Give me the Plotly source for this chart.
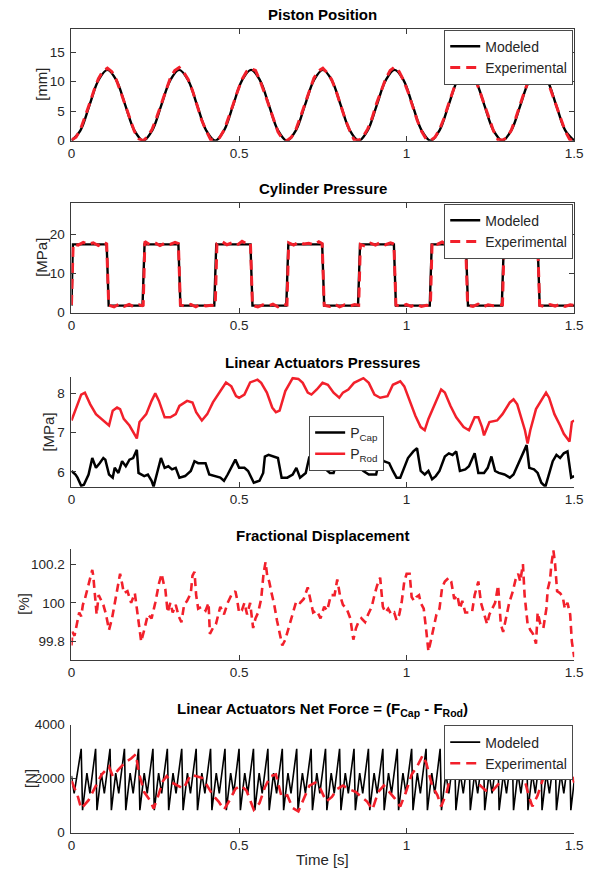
import numpy as np
import plotly.graph_objects as go

W, H = 592, 877

# ---------------- Piston position [mm] ----------------
pos_t_model = np.linspace(0, 1.5, 57)
pos_model = [0, 1.76, 6, 10.24, 12, 10.24, 6, 1.76,
             0, 1.76, 6, 10.24, 12, 10.24, 6, 1.76,
             0, 1.76, 6, 10.24, 12, 10.24, 6, 1.76,
             0, 1.76, 6, 10.24, 12, 10.24, 6, 1.76,
             0, 1.76, 6, 10.24, 12, 10.24, 6, 1.76,
             0, 1.76, 6, 10.24, 12, 10.24, 6, 1.76,
             0, 1.76, 6, 10.24, 12, 10.24, 6, 1.76,
             0]
pos_t_exp = np.linspace(0, 1.5, 113)
pos_exp = [0.1, 0.6, 1.9, 3.9, 6.2, 8.5, 10.5, 11.8, 12.3, 11.7, 10.3, 8.2, 5.9, 3.6, 1.6, 0.3,
           0.0, 0.7, 2.0, 4.0, 6.3, 8.6, 10.6, 11.9, 12.4, 11.6, 10.4, 8.4, 5.8, 3.5, 1.7, 0.2,
           0.1, 0.5, 1.8, 3.8, 6.1, 8.4, 10.4, 11.7, 12.2, 11.9, 10.2, 8.1, 6.0, 3.7, 1.5, 0.3,
           0.0, 0.6, 1.9, 4.0, 6.2, 8.5, 10.6, 11.8, 12.3, 11.5, 10.3, 8.3, 5.9, 3.6, 1.7, 0.1,
           0.1, 0.7, 2.0, 3.9, 6.4, 8.6, 10.5, 11.9, 12.5, 11.7, 10.2, 8.2, 5.8, 3.5, 1.6, 0.3,
           0.0, 0.6, 1.9, 3.8, 6.2, 8.4, 10.6, 11.8, 12.4, 11.8, 10.4, 8.3, 6.0, 3.6, 1.7, 0.2,
           0.1, 0.5, 1.8, 3.9, 6.3, 8.5, 10.5, 11.9, 12.3, 11.6, 10.3, 8.2, 5.9, 3.7, 1.6, 0.2,
           0.0]

# ---------------- Cylinder pressure [MPa] ----------------
pres_t_model = [0, 0.004, 0.105, 0.111, 0.212, 0.218, 0.319, 0.325, 0.426, 0.432,
                0.534, 0.540, 0.641, 0.647, 0.748, 0.754, 0.855, 0.861, 0.962, 0.968,
                1.069, 1.075, 1.177, 1.183, 1.284, 1.290, 1.391, 1.397, 1.5]
pres_model = [1.8, 17.5, 17.5, 1.8, 1.8, 17.5, 17.5, 1.8, 1.8, 17.5,
              17.5, 1.8, 1.8, 17.5, 17.5, 1.8, 1.8, 17.5, 17.5, 1.8,
              1.8, 17.5, 17.5, 1.8, 1.8, 17.5, 17.5, 1.8, 1.8]
pres_t_exp = [0.000, 0.005, 0.020, 0.035, 0.050, 0.065, 0.080, 0.095, 0.105, 0.111, 0.127, 0.142, 0.157, 0.172, 0.187, 0.202, 0.211,
              0.214, 0.219, 0.234, 0.249, 0.264, 0.279, 0.294, 0.309, 0.319, 0.325, 0.341, 0.356, 0.371, 0.386, 0.401, 0.416, 0.425,
              0.429, 0.434, 0.449, 0.464, 0.479, 0.494, 0.509, 0.524, 0.534, 0.540, 0.556, 0.571, 0.586, 0.601, 0.616, 0.631, 0.640,
              0.643, 0.648, 0.663, 0.678, 0.693, 0.708, 0.723, 0.738, 0.748, 0.754, 0.770, 0.785, 0.800, 0.815, 0.830, 0.845, 0.854,
              0.857, 0.862, 0.877, 0.892, 0.907, 0.922, 0.937, 0.952, 0.962, 0.968, 0.984, 0.999, 1.014, 1.029, 1.044, 1.059, 1.068,
              1.071, 1.076, 1.091, 1.106, 1.121, 1.136, 1.151, 1.166, 1.176, 1.182, 1.198, 1.213, 1.228, 1.243, 1.258, 1.273, 1.282,
              1.286, 1.291, 1.306, 1.321, 1.336, 1.351, 1.366, 1.381, 1.391, 1.397, 1.413, 1.428, 1.443, 1.458, 1.473, 1.488, 1.500]
pres_exp = [2.0, 17.6, 17.3, 18.0, 17.5, 17.9, 17.2, 18.1, 17.6, 1.9, 1.5, 2.2, 1.6, 2.1, 1.5, 2.0, 1.8,
            1.9, 18.2, 17.4, 17.9, 17.2, 17.8, 17.5, 18.0, 17.7, 2.0, 1.6, 2.1, 1.5, 2.2, 1.7, 1.9, 1.8,
            1.8, 17.7, 18.2, 17.4, 17.9, 17.3, 18.3, 17.6, 17.8, 1.8, 1.5, 2.0, 1.7, 2.2, 1.5, 2.1, 1.9,
            2.0, 17.9, 17.3, 18.1, 17.6, 17.8, 17.4, 18.2, 17.7, 1.9, 1.6, 2.2, 1.5, 2.0, 1.7, 2.1, 1.8,
            1.9, 17.5, 17.0, 17.8, 17.3, 18.0, 17.4, 17.9, 17.6, 2.0, 1.5, 2.1, 1.6, 2.2, 1.6, 1.9, 1.8,
            1.8, 18.0, 17.5, 18.1, 17.4, 17.9, 17.6, 18.2, 17.8, 1.9, 1.6, 2.2, 1.5, 2.0, 1.8, 2.1, 1.9,
            2.0, 18.3, 17.6, 18.2, 17.7, 18.4, 17.5, 18.1, 17.9, 1.9, 1.5, 2.1, 1.7, 2.2, 1.6, 2.0, 1.9]

# ---------------- Linear actuator pressures [MPa] ----------------
rod_t = [0, 0.029, 0.040, 0.056, 0.073, 0.084, 0.106, 0.112, 0.123, 0.136,
         0.145, 0.156, 0.173, 0.189, 0.195, 0.203, 0.223, 0.239, 0.250, 0.261,
         0.278, 0.295, 0.311, 0.322, 0.345, 0.361, 0.372, 0.389, 0.405, 0.422,
         0.444, 0.461, 0.477, 0.491, 0.500, 0.516, 0.533, 0.555, 0.566, 0.583,
         0.599, 0.610, 0.621, 0.638, 0.660, 0.677, 0.690, 0.705, 0.716, 0.732,
         0.749, 0.765, 0.782, 0.799, 0.810, 0.826, 0.843, 0.871, 0.887, 0.904,
         0.921, 0.943, 0.959, 0.981, 0.993, 1.009, 1.026, 1.042, 1.054, 1.065,
         1.087, 1.103, 1.114, 1.131, 1.148, 1.170, 1.186, 1.203, 1.214, 1.225,
         1.231, 1.247, 1.270, 1.286, 1.308, 1.319, 1.330, 1.342, 1.353, 1.361,
         1.369, 1.386, 1.408, 1.416, 1.425, 1.441, 1.458, 1.469, 1.486, 1.493, 1.500]
rod_p = [7.31, 7.97, 8.02, 7.72, 7.47, 7.39, 7.22, 7.18, 7.56, 7.64,
         7.60, 7.35, 7.18, 6.93, 6.85, 7.27, 7.47, 7.81, 8.00, 7.81,
         7.39, 7.39, 7.47, 7.68, 7.81, 7.77, 7.52, 7.31, 7.47, 7.77,
         8.06, 8.28, 8.18, 7.93, 7.89, 7.97, 8.28, 8.35, 8.27, 8.02,
         7.64, 7.52, 7.56, 8.06, 8.39, 8.37, 8.27, 8.02, 7.97, 8.10,
         8.27, 8.22, 8.02, 7.89, 8.02, 8.10, 8.27, 8.39, 8.27, 7.97,
         7.89, 7.93, 8.22, 8.31, 8.18, 7.81, 7.43, 7.14, 7.06, 7.35,
         7.81, 8.10, 8.02, 7.68, 7.39, 7.14, 7.06, 7.39, 7.39, 7.14,
         6.93, 7.27, 7.31, 7.47, 7.77, 7.85, 7.72, 7.39, 7.06, 6.72,
         7.06, 7.60, 7.93, 8.02, 7.89, 7.47, 7.18, 6.97, 6.77, 7.27, 7.31]
cap_t = [0, 0.012, 0.018, 0.029, 0.037, 0.051, 0.062, 0.073, 0.084, 0.095,
         0.101, 0.112, 0.123, 0.129, 0.140, 0.151, 0.162, 0.173, 0.184, 0.195,
         0.200, 0.217, 0.228, 0.239, 0.245, 0.256, 0.267, 0.278, 0.289, 0.300,
         0.311, 0.322, 0.339, 0.356, 0.367, 0.378, 0.389, 0.400, 0.411, 0.428,
         0.444, 0.455, 0.466, 0.489, 0.500, 0.516, 0.527, 0.544, 0.561, 0.572,
         0.577, 0.588, 0.605, 0.616, 0.627, 0.644, 0.660, 0.671, 0.682, 0.699,
         0.710, 0.721, 0.738, 0.754, 0.771, 0.782, 0.793, 0.804, 0.821, 0.838,
         0.849, 0.860, 0.871, 0.887, 0.909, 0.921, 0.932, 0.948, 0.959, 0.970,
         0.981, 0.993, 1.004, 1.020, 1.031, 1.042, 1.054, 1.065, 1.076, 1.087,
         1.098, 1.114, 1.126, 1.137, 1.148, 1.159, 1.175, 1.186, 1.203, 1.214,
         1.231, 1.242, 1.253, 1.264, 1.275, 1.292, 1.308, 1.319, 1.342, 1.358,
         1.366, 1.380, 1.391, 1.402, 1.414, 1.425, 1.436, 1.447, 1.458, 1.469,
         1.480, 1.491, 1.500]
cap_p = [6.02, 5.93, 5.85, 5.64, 5.67, 5.93, 6.35, 6.10, 6.22, 6.35,
         6.31, 5.93, 5.85, 6.10, 5.97, 6.27, 6.14, 6.31, 6.35, 6.56,
         5.97, 5.89, 5.93, 5.77, 5.62, 5.97, 6.35, 6.10, 6.14, 6.06,
         6.10, 5.85, 5.89, 6.02, 6.27, 6.22, 6.22, 6.22, 5.93, 5.89,
         5.85, 5.77, 5.93, 6.31, 6.10, 6.10, 6.02, 5.72, 5.77, 5.97,
         6.39, 6.43, 6.39, 6.35, 5.85, 5.85, 5.93, 6.10, 5.85, 5.97,
         6.39, 6.10, 6.14, 6.10, 5.97, 5.97, 6.27, 6.18, 6.27, 6.31,
         6.06, 6.10, 6.02, 5.93, 5.93, 6.39, 6.27, 6.22, 6.02, 5.85,
         5.85, 6.10, 6.35, 6.52, 6.60, 6.02, 5.93, 6.02, 5.81, 5.89,
         6.02, 6.39, 6.47, 6.43, 6.52, 6.02, 6.06, 6.14, 6.47, 5.97,
         5.97, 6.10, 6.39, 6.02, 5.97, 5.93, 5.85, 5.93, 6.35, 6.68,
         6.10, 6.06, 5.97, 5.72, 5.62, 5.93, 6.27, 6.43, 6.35, 6.47,
         6.52, 5.85, 5.89]

# ---------------- Fractional displacement [%] ----------------
frac_t = [0.000, 0.003, 0.009, 0.018, 0.023, 0.029, 0.034, 0.040, 0.048, 0.054,
          0.062, 0.065, 0.070, 0.075, 0.081, 0.088, 0.095, 0.103, 0.112, 0.121,
          0.129, 0.136, 0.145, 0.151, 0.156, 0.167, 0.178, 0.189, 0.200, 0.208,
          0.217, 0.228, 0.239, 0.250, 0.261, 0.269, 0.275, 0.280, 0.287, 0.295,
          0.302, 0.311, 0.320, 0.328, 0.336, 0.345, 0.356, 0.361, 0.367, 0.372,
          0.378, 0.389, 0.400, 0.409, 0.413, 0.422, 0.431, 0.439, 0.444, 0.455,
          0.466, 0.477, 0.489, 0.494, 0.500, 0.508, 0.516, 0.524, 0.533, 0.542,
          0.549, 0.557, 0.566, 0.573, 0.579, 0.584, 0.590, 0.597, 0.605, 0.613,
          0.621, 0.629, 0.638, 0.646, 0.655, 0.664, 0.671, 0.682, 0.693, 0.705,
          0.712, 0.721, 0.732, 0.743, 0.754, 0.763, 0.774, 0.785, 0.793, 0.801,
          0.810, 0.821, 0.832, 0.841, 0.849, 0.856, 0.865, 0.876, 0.885, 0.896,
          0.904, 0.912, 0.921, 0.929, 0.937, 0.945, 0.954, 0.963, 0.970, 0.978,
          0.985, 0.993, 1.000, 1.009, 1.015, 1.022, 1.029, 1.037, 1.042, 1.051,
          1.059, 1.065, 1.073, 1.081, 1.089, 1.098, 1.106, 1.114, 1.126, 1.133,
          1.142, 1.151, 1.159, 1.166, 1.175, 1.186, 1.195, 1.203, 1.214, 1.222,
          1.231, 1.240, 1.247, 1.255, 1.264, 1.273, 1.281, 1.288, 1.297, 1.306,
          1.317, 1.325, 1.333, 1.339, 1.347, 1.352, 1.361, 1.369, 1.377, 1.386,
          1.391, 1.399, 1.408, 1.417, 1.421, 1.428, 1.432, 1.438, 1.443, 1.449,
          1.458, 1.466, 1.472, 1.480, 1.488, 1.493, 1.500]
frac_v = [99.78, 99.85, 99.83, 99.90, 99.95, 99.93, 99.99, 100.02, 100.08, 100.12,
          100.17, 100.14, 100.05, 99.94, 100.04, 100.01, 99.99, 99.94, 99.86, 99.92,
          100.00, 100.05, 100.15, 100.10, 100.05, 100.06, 100.00, 100.05, 99.90, 99.80,
          99.86, 99.94, 99.92, 100.00, 100.10, 100.15, 100.10, 100.07, 99.95, 100.00,
          99.95, 99.99, 99.93, 99.90, 99.99, 100.01, 100.05, 100.14, 100.16, 100.04,
          99.97, 99.98, 99.96, 100.00, 99.84, 99.87, 99.89, 99.95, 99.98, 99.94,
          100.00, 100.04, 100.06, 100.02, 99.95, 99.96, 100.00, 99.94, 100.00, 99.87,
          99.92, 99.95, 100.02, 100.15, 100.21, 100.14, 100.11, 100.05, 99.99, 99.91,
          99.84, 99.78, 99.81, 99.86, 99.92, 99.98, 100.01, 100.00, 100.02, 100.08,
          100.02, 99.95, 99.96, 99.92, 99.98, 99.96, 100.04, 100.04, 100.12, 100.04,
          99.99, 99.97, 99.92, 99.81, 99.87, 99.90, 99.92, 99.90, 99.94, 99.98,
          100.04, 100.09, 100.13, 99.98, 99.95, 99.97, 99.94, 99.95, 99.91, 99.94,
          100.00, 100.11, 100.15, 100.15, 100.03, 100.01, 100.03, 100.04, 100.00, 99.97,
          99.85, 99.75, 99.81, 99.87, 99.94, 99.97, 100.08, 100.11, 100.13, 100.11,
          100.02, 100.04, 99.97, 100.01, 99.95, 99.95, 99.95, 100.04, 100.11, 100.00,
          99.95, 99.89, 99.94, 99.97, 100.00, 100.09, 99.89, 99.85, 99.93, 100.00,
          100.06, 100.12, 100.15, 100.11, 100.20, 100.04, 99.89, 99.86, 99.84, 99.79,
          99.95, 99.89, 99.87, 99.97, 100.07, 100.12, 100.20, 100.27, 100.20, 100.06,
          100.05, 100.03, 99.97, 100.00, 99.94, 99.80, 99.72]

# ---------------- Net force [N] ----------------
force_t_model = [0.000, 0.008,
                 0.029, 0.033, 0.046, 0.055, 0.072, 0.076, 0.089, 0.098,
                 0.115, 0.119, 0.132, 0.141, 0.158, 0.162, 0.175, 0.184,
                 0.200, 0.204, 0.217, 0.226, 0.243, 0.247, 0.260, 0.269,
                 0.286, 0.290, 0.303, 0.312, 0.329, 0.333, 0.346, 0.355,
                 0.372, 0.376, 0.389, 0.398, 0.415, 0.419, 0.432, 0.441,
                 0.458, 0.462, 0.475, 0.484, 0.500, 0.504, 0.517, 0.526,
                 0.543, 0.547, 0.560, 0.569, 0.586, 0.590, 0.603, 0.612,
                 0.629, 0.633, 0.646, 0.655, 0.672, 0.676, 0.689, 0.698,
                 0.715, 0.719, 0.732, 0.741, 0.758, 0.762, 0.775, 0.784,
                 0.800, 0.804, 0.817, 0.826, 0.843, 0.847, 0.860, 0.869,
                 0.886, 0.890, 0.903, 0.912, 0.929, 0.933, 0.946, 0.955,
                 0.972, 0.976, 0.989, 0.998, 1.015, 1.019, 1.032, 1.041,
                 1.058, 1.062, 1.075, 1.084, 1.100, 1.104, 1.117, 1.126,
                 1.143, 1.147, 1.160, 1.169, 1.186, 1.190, 1.203, 1.212,
                 1.229, 1.233, 1.246, 1.255, 1.272, 1.276, 1.289, 1.298,
                 1.315, 1.319, 1.332, 1.341, 1.358, 1.362, 1.375, 1.384,
                 1.400, 1.404, 1.417, 1.426, 1.443, 1.447, 1.460, 1.469,
                 1.486, 1.490, 1.500]
force_model = [2100, 1450,
               3100, 830, 2200, 1450, 3100, 830, 2200, 1450,
               3100, 830, 2200, 1450, 3100, 830, 2200, 1450,
               3100, 830, 2200, 1450, 3100, 830, 2200, 1450,
               3100, 830, 2200, 1450, 3100, 830, 2200, 1450,
               3100, 830, 2200, 1450, 3100, 830, 2200, 1450,
               3100, 830, 2200, 1450, 3100, 830, 2200, 1450,
               3100, 830, 2200, 1450, 3100, 830, 2200, 1450,
               3100, 830, 2200, 1450, 3100, 830, 2200, 1450,
               3100, 830, 2200, 1450, 3100, 830, 2200, 1450,
               3100, 830, 2200, 1450, 3100, 830, 2200, 1450,
               3100, 830, 2200, 1450, 3100, 830, 2200, 1450,
               3100, 830, 2200, 1450, 3100, 830, 2200, 1450,
               3100, 830, 2200, 1450, 3100, 830, 2200, 1450,
               3100, 830, 2200, 1450, 3100, 830, 2200, 1450,
               3100, 830, 2200, 1450, 3100, 830, 2200, 1450,
               3100, 830, 2200, 1450, 3100, 830, 2200, 1450,
               3100, 830, 2200, 1450, 3100, 830, 2200, 1450,
               3100, 830, 1900]
force_t_exp = [0.000, 0.018, 0.029, 0.051, 0.073, 0.090, 0.112, 0.123, 0.140, 0.162,
               0.178, 0.192, 0.201, 0.217, 0.234, 0.245, 0.256, 0.273, 0.284, 0.300,
               0.317, 0.334, 0.356, 0.372, 0.389, 0.405, 0.422, 0.439, 0.455, 0.472,
               0.489, 0.505, 0.522, 0.544, 0.561, 0.577, 0.594, 0.610, 0.627, 0.644,
               0.660, 0.677, 0.693, 0.710, 0.727, 0.743, 0.760, 0.777, 0.793, 0.810,
               0.826, 0.849, 0.865, 0.882, 0.898, 0.915, 0.932, 0.948, 0.965, 0.981,
               0.998, 1.015, 1.031, 1.048, 1.059, 1.076, 1.092, 1.103, 1.120, 1.137,
               1.153, 1.170, 1.186, 1.203, 1.220, 1.236, 1.253, 1.270, 1.286, 1.303,
               1.319, 1.336, 1.353, 1.364, 1.375, 1.391, 1.408, 1.425, 1.441, 1.458,
               1.474, 1.486, 1.500]
force_exp = [1910, 1380, 890, 1200, 1740, 2150, 2440, 2090, 2330, 2620,
             2740, 2900, 2210, 1500, 1200, 890, 1260, 1910, 2090, 1850,
             1740, 1620, 2150, 2090, 2030, 1740, 1380, 1150, 850, 1200,
             1620, 1740, 1560, 850, 1090, 1680, 2090, 2150, 1320, 1380,
             910, 790, 1260, 1740, 1850, 1620, 1150, 1320, 1620, 1740,
             1620, 1500, 1320, 1150, 850, 1500, 1740, 1500, 1260, 970,
             1500, 2150, 2440, 2860, 2560, 1740, 1380, 970, 1500, 2440,
             2560, 2380, 2150, 2030, 1740, 1560, 1500, 1740, 1970, 2330,
             2680, 2440, 1910, 1380, 970, 1380, 2030, 2440, 2740, 2620,
             2800, 2440, 1850]

# ---------------- figure ----------------
RED = '#f2202b'
AX = '#3a3a3a'
TXT = '#262626'
FONT = 'Liberation Sans, Arial, sans-serif'

def px_x(p):
    return p / W

def px_y(p):
    return 1 - p / H

x0, x1 = 69, 583
rows = [(22, 136), (199, 311), (376, 488), (551, 664), (730, 840)]

fig = go.Figure()

def add(x, y, ax, name, color, width, dash='solid', legend=None, show=True, shape='linear'):
    fig.add_trace(go.Scatter(
        x=x, y=y, mode='lines', name=name,
        xaxis='x' + ('' if ax == 1 else str(ax)),
        yaxis='y' + ('' if ax == 1 else str(ax)),
        line=dict(color=color, width=width, dash=dash, shape=shape),
        legend=legend if legend else 'legend', showlegend=show))

add(pos_t_model, pos_model, 1, 'Modeled', 'black', 2.4, legend='legend', shape='spline')
add(pos_t_exp, pos_exp, 1, 'Experimental', RED, 3, dash='10px,6px', legend='legend')
add(pres_t_model, pres_model, 2, 'Modeled', 'black', 2.4, legend='legend2')
add(pres_t_exp, pres_exp, 2, 'Experimental', RED, 3, dash='10px,6px', legend='legend2')
add(cap_t, cap_p, 3, 'P<sub>Cap</sub>', 'black', 2.5, legend='legend3')
add(rod_t, rod_p, 3, 'P<sub>Rod</sub>', RED, 2.5, legend='legend3')
add(frac_t, frac_v, 4, 'Fractional', RED, 2.6, dash='8px,5px', show=False)
add(force_t_model, force_model, 5, 'Modeled', 'black', 1.6, legend='legend4')
add(force_t_exp, force_exp, 5, 'Experimental', RED, 2.6, dash='10px,6px', legend='legend4')

yranges = [[0, 19], [0, 28.2], [5.62, 8.43], [99.707, 100.28], [0, 4000]]
yticks = [([0, 5, 10, 15], ['0', '5', '10', '15']),
          ([0, 10, 20], ['0', '10', '20']),
          ([6, 7, 8], ['6', '7', '8']),
          ([99.8, 100, 100.2], ['99.8', '100', '100.2']),
          ([0, 2000, 4000], ['0', '2000', '4000'])]
boxed = [True, True, False, False, False]

layout = dict(
    width=W, height=H, margin=dict(l=0, r=0, t=0, b=0),
    paper_bgcolor='white', plot_bgcolor='white',
    font=dict(family=FONT, size=13, color=TXT),
)
for i in range(5):
    top, bot = rows[i]
    sfx = '' if i == 0 else str(i + 1)
    mirror = 'ticks' if boxed[i] else False
    layout['xaxis' + sfx] = dict(
        domain=[px_x(x0), px_x(x1)], anchor='y' + sfx, range=[0, 1.5],
        tickvals=[0, 0.5, 1, 1.5], ticktext=['0', '0.5', '1', '1.5'],
        ticks='inside', ticklen=5, tickwidth=1, tickcolor=AX,
        showline=True, linecolor=AX, linewidth=1, mirror=mirror,
        showgrid=False, zeroline=False, tickfont=dict(size=13.5, color=TXT),
        ticklabeloverflow='allow')
    layout['yaxis' + sfx] = dict(
        domain=[px_y(bot), px_y(top)], anchor='x' + sfx, range=yranges[i],
        tickvals=yticks[i][0], ticktext=yticks[i][1],
        ticks='inside', ticklen=5, tickwidth=1, tickcolor=AX,
        showline=True, linecolor=AX, linewidth=1, mirror=mirror,
        showgrid=False, zeroline=False, tickfont=dict(size=13.5, color=TXT),
        ticklabelstandoff=3, ticklabeloverflow='allow')

leg_common = dict(yanchor='top', bgcolor='white',
                  bordercolor='#4a4a4a', borderwidth=1,
                  font=dict(size=14, color=TXT), tracegroupgap=0)
layout['legend'] = dict(x=px_x(x1 - 1), y=px_y(23), xanchor='right', **leg_common)
layout['legend2'] = dict(x=px_x(x1 - 1), y=px_y(200), xanchor='right', **leg_common)
layout['legend3'] = dict(x=px_x(312), y=px_y(416), xanchor='left', **leg_common)
layout['legend4'] = dict(x=px_x(x1 - 1), y=px_y(731), xanchor='right', **leg_common)

titles = [('Piston Position', 8), ('Cylinder Pressure', 185),
          ('Linear Actuators Pressures', 362), ('Fractional Displacement', 538),
          ('Linear Actuators Net Force = (F<sub>Cap</sub> - F<sub>Rod</sub>)', 715)]
ann = []
xc = px_x((x0 + x1) / 2)
for t, yy in titles:
    ann.append(dict(text='<b>' + t + '</b>', x=xc, y=px_y(yy), xref='paper', yref='paper',
                    xanchor='center', yanchor='middle', showarrow=False,
                    font=dict(size=15, color='black', family=FONT)))
ylabels = [('[mm]', 39), ('[MPa]', 38), ('[MPa]', 46), ('[%]', 20), ('[N]', 27)]
for i, (t, xx) in enumerate(ylabels):
    top, bot = rows[i]
    ann.append(dict(text=t, x=px_x(xx), y=px_y((top + bot) / 2), xref='paper', yref='paper',
                    xanchor='center', yanchor='middle', textangle=-90, showarrow=False,
                    font=dict(size=15, color=TXT, family=FONT)))
ann.append(dict(text='Time [s]', x=xc, y=px_y(867), xref='paper', yref='paper',
                xanchor='center', yanchor='middle', showarrow=False,
                font=dict(size=15, color=TXT, family=FONT)))
layout['annotations'] = ann

fig.update_layout(**layout)
fig.write_html('out.html')
